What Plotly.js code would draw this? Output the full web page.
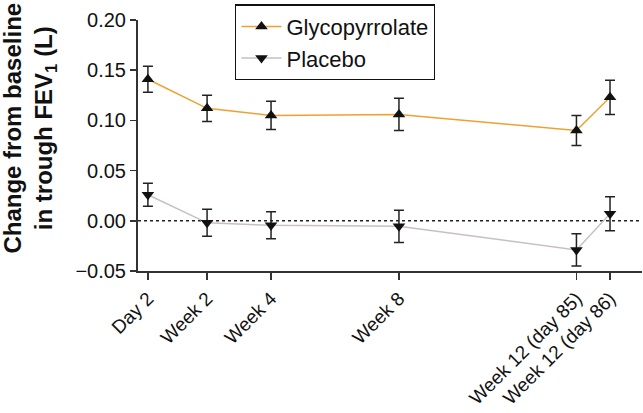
<!DOCTYPE html>
<html>
<head>
<meta charset="utf-8">
<script src="https://cdn.plot.ly/plotly-3.0.1.min.js"></script>
<style>html,body{margin:0;padding:0;background:#fff;}#chart{width:643px;height:413px;}</style>
</head>
<body>
<div id="chart"></div>
<script>
// Time points (category labels) and their positions on the x-axis (weeks-like scale)
const timepoints = ["Day 2", "Week 2", "Week 4", "Week 8", "Week 12 (day 85)", "Week 12 (day 86)"];
const xPositions = [0.15, 2, 4, 8, 13.55, 14.6];

// Change from baseline in trough FEV1 (L)
const glycoMean = [0.141, 0.112, 0.105, 0.106, 0.090, 0.123];
const glycoErr  = [0.013, 0.013, 0.014, 0.016, 0.015, 0.017];
const placeboMean = [0.026, -0.002, -0.0045, -0.0055, -0.029, 0.007];
const placeboErr  = [0.0115, 0.0135, 0.0135, 0.016, 0.016, 0.017];

const yTicks = [-0.05, 0, 0.05, 0.10, 0.15, 0.20];
const yTickText = ["\u22120.05", "0.00", "0.05", "0.10", "0.15", "0.20"];

const font = "Liberation Sans, Arial, sans-serif";

const traces = [
  {
    x: xPositions, y: glycoMean, name: "Glycopyrrolate", type: "scatter", mode: "lines+markers",
    line: {color: "#EFA12F", width: 1.5},
    marker: {symbol: "triangle-up", size: 11, color: "#111"},
    error_y: {type: "data", array: glycoErr, visible: true, color: "#222", thickness: 1.5, width: 5}
  },
  {
    x: xPositions, y: placeboMean, name: "Placebo", type: "scatter", mode: "lines+markers",
    line: {color: "#C9BFC3", width: 1.5},
    marker: {symbol: "triangle-down", size: 11, color: "#111"},
    error_y: {type: "data", array: placeboErr, visible: true, color: "#222", thickness: 1.5, width: 5}
  }
];

const layout = {
  width: 643, height: 413,
  margin: {l: 138, r: 1, t: 19.5, b: 142},
  paper_bgcolor: "#fff", plot_bgcolor: "#fff",
  font: {family: font, size: 20, color: "#111"},
  showlegend: true,
  legend: {
    x: 0.193, y: 1.062, xanchor: "left", yanchor: "top",
    bordercolor: "#111", borderwidth: 1.2, bgcolor: "#fff",
    font: {family: font, size: 22, color: "#111"},
    tracegroupgap: 0, itemwidth: 40
  },
  xaxis: {
    range: [-0.16, 15.6],
    tickmode: "array", tickvals: xPositions, ticktext: timepoints,
    tickangle: -45, ticks: "outside", ticklen: 7, tickwidth: 1.5, tickcolor: "#333",
    showline: true, linecolor: "#333", linewidth: 2,
    showgrid: false, zeroline: false,
    tickfont: {family: font, size: 19, color: "#111"}
  },
  yaxis: {
    range: [-0.05, 0.20],
    tickmode: "array", tickvals: yTicks, ticktext: yTickText,
    ticks: "outside", ticklen: 6, tickwidth: 1.5, tickcolor: "#333",
    showline: true, linecolor: "#333", linewidth: 2,
    showgrid: false, zeroline: false,
    tickfont: {family: font, size: 20, color: "#111"}
  },
  shapes: [
    {type: "line", xref: "paper", x0: 0, x1: 1, yref: "y", y0: 0, y1: 0,
     line: {color: "#222", width: 1.5, dash: "dot"}, layer: "below"}
  ],
  annotations: [
    {
      text: "<b>Change from baseline<br>in trough FEV<sub>1</sub> (L)</b>",
      xref: "paper", yref: "paper", x: -0.215, y: 0.57,
      xanchor: "center", yanchor: "middle", textangle: -90, showarrow: false,
      font: {family: font, size: 24, color: "#111"}
    }
  ]
};

Plotly.newPlot("chart", traces, layout, {displayModeBar: false, staticPlot: true});
</script>
</body>
</html>
